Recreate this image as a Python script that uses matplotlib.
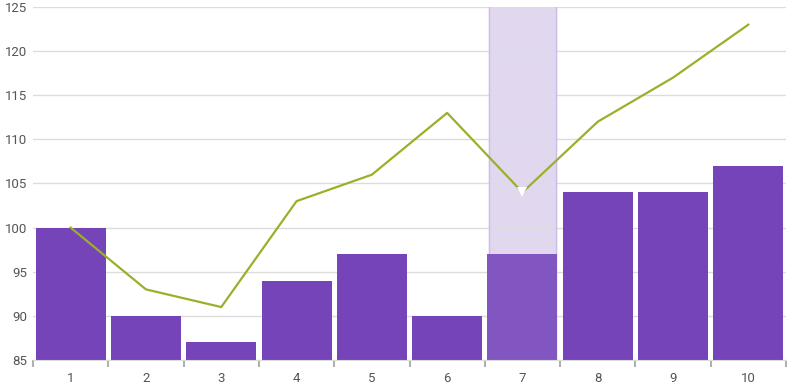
import numpy as np
import matplotlib.pyplot as plt

plt.rcParams['font.family'] = ['Roboto', 'DejaVu Sans']

categories = ['1', '2', '3', '4', '5', '6', '7', '8', '9', '10']
bar_values = [100, 90, 87, 94, 97, 90, 97, 104, 104, 107]
line_values = [100, 93, 91, 103, 106, 113, 104, 112, 117, 123]
highlight = 6  # index of hovered category

fig = plt.figure(figsize=(8, 3.88), dpi=100)
ax = fig.add_axes([33 / 800, 28 / 388, 753 / 800, 353 / 388])

x = np.arange(len(categories))
ymin, ymax = 85, 125

# hover band
ax.axvspan(highlight - 0.45, highlight + 0.45, color='#e1d8f0', zorder=0.5)
ax.axvline(highlight - 0.45, color='#cbbde6', lw=1, zorder=0.6)
ax.axvline(highlight + 0.45, color='#cbbde6', lw=1, zorder=0.6)

colors = ['#7444b8'] * len(categories)
colors[highlight] = '#8256c0'
ax.bar(x, np.array(bar_values) - ymin, bottom=ymin, width=0.93,
       color=colors, zorder=2)

ax.plot(x, line_values, color='#9bb02a', lw=1.6, zorder=3)
ax.plot(x[highlight], line_values[highlight], marker='v', color='white',
        markersize=6.5, markeredgewidth=0, zorder=4)

ax.set_xlim(-0.5, len(categories) - 0.5)
ax.set_ylim(ymin, ymax)
ax.set_yticks(np.arange(85, 126, 5))
ax.yaxis.grid(True, color='#dcdcdc', lw=1)
ax.set_axisbelow(True)

ax.set_xticks(x)
ax.set_xticklabels(categories)
ax.set_xticks(np.arange(-0.5, len(categories)), minor=True)
ax.tick_params(axis='x', which='major', length=0, pad=9, labelsize=9.5, labelcolor='#555555')
ax.tick_params(axis='x', which='minor', length=5, width=1.5, color='#b0b0b0', direction='out')
ax.tick_params(axis='y', length=0, pad=4, labelsize=9.5, labelcolor='#555555')

for s in ['top', 'right', 'left']:
    ax.spines[s].set_visible(False)
ax.spines['bottom'].set_color('#dcdcdc')

fig.savefig('out.png', dpi=100)
